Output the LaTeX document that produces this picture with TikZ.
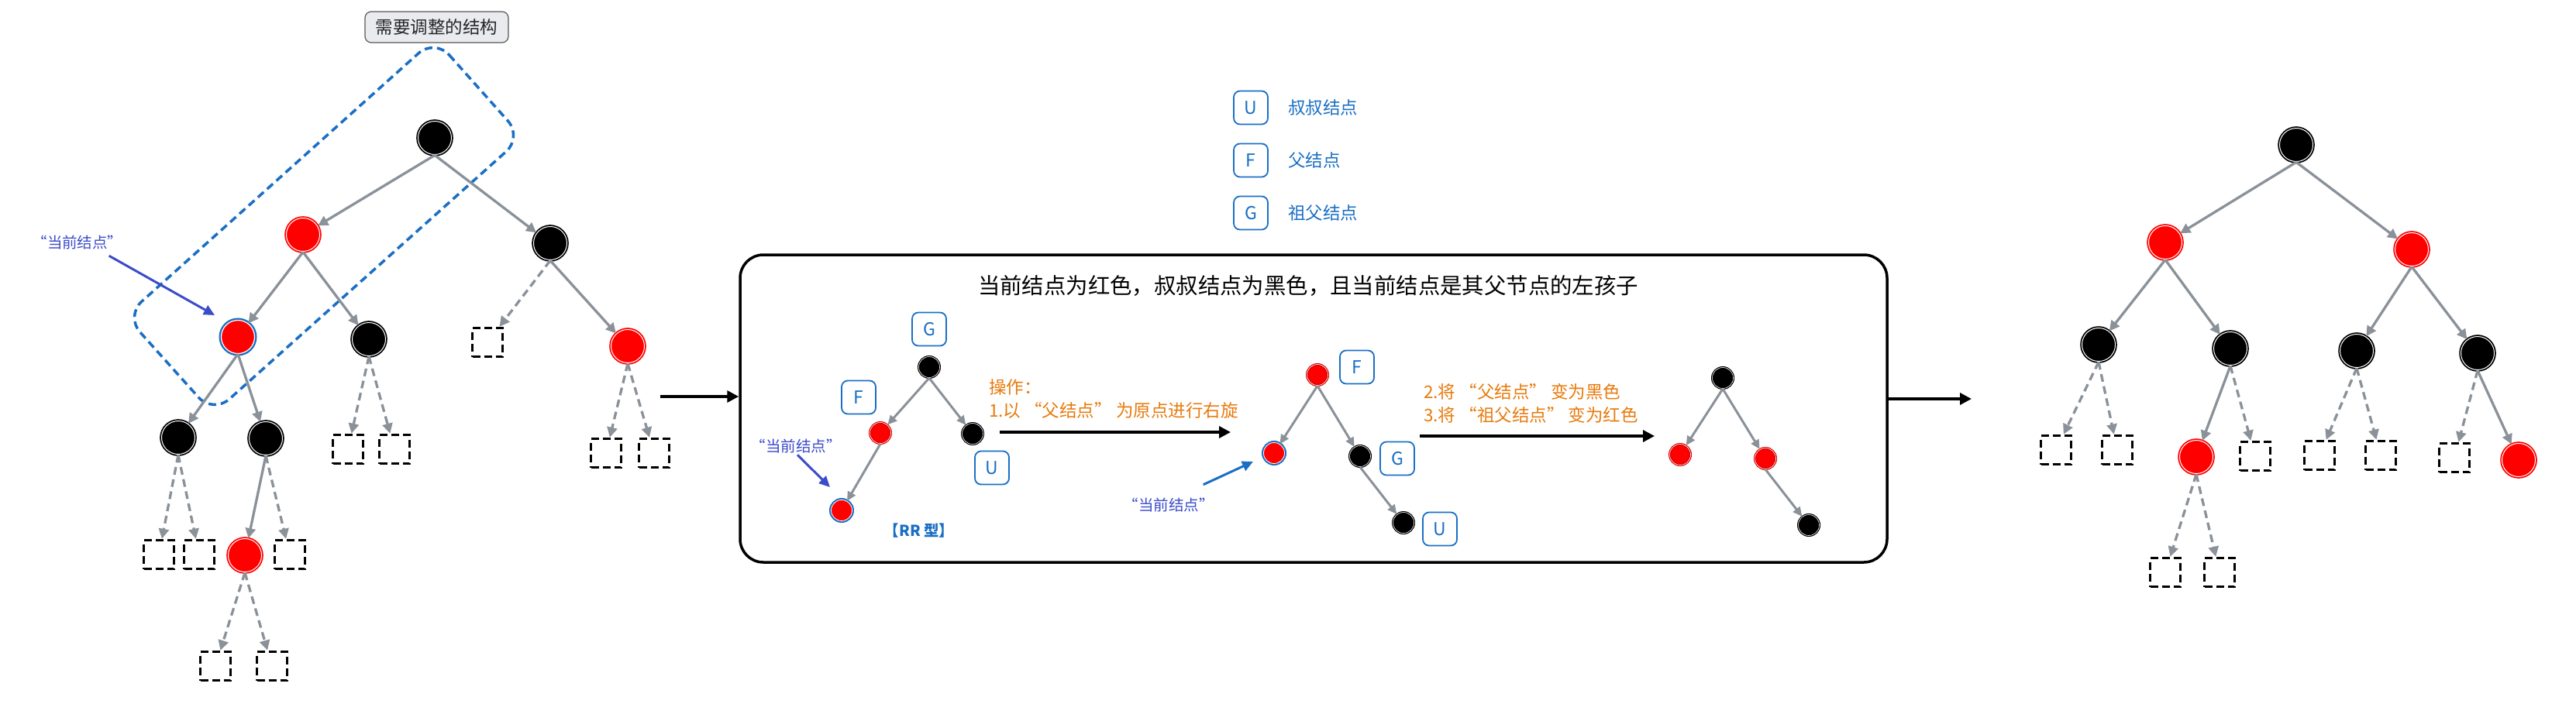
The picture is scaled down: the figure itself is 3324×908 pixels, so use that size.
\documentclass[tikz,border=0pt]{standalone}
\usepackage{fontspec}
\setmainfont{Noto Sans CJK SC}
\usetikzlibrary{arrows.meta}
\definecolor{cblue}{RGB}{26,111,196}
\definecolor{cpurp}{RGB}{59,76,202}
\definecolor{cgray}{RGB}{138,145,153}
\definecolor{corange}{RGB}{232,122,12}
\definecolor{cred}{RGB}{255,0,0}
\definecolor{clight}{RGB}{233,235,239}
\tikzset{
  bnode/.style={circle, fill=black, draw=black, double=white, double distance=1pt, line width=1.8pt, minimum size=43pt, inner sep=0pt},
  rnode/.style={circle, fill=cred, draw=cred, double=white, double distance=1pt, line width=1.8pt, minimum size=43pt, inner sep=0pt},
  cnode/.style={circle, fill=cred, draw=white, line width=1.2pt, minimum size=43pt, inner sep=0pt, preaction={draw=cblue, line width=6pt}},
  sbn/.style={circle, fill=black, draw=black, double=white, double distance=0.6pt, line width=1.2pt, minimum size=27pt, inner sep=0pt},
  srn/.style={circle, fill=cred, draw=cred!85!black, double=white, double distance=0.6pt, line width=1.2pt, minimum size=27pt, inner sep=0pt},
  scn/.style={circle, fill=cred, draw=white, line width=0.8pt, minimum size=27pt, inner sep=0pt, preaction={draw=cblue, line width=5pt}},
  nilbox/.style={draw=black, fill=white, dash pattern=on 10pt off 5pt, line width=3.5pt, minimum width=39pt, minimum height=37pt, inner sep=0pt},
  tedge/.style={draw=cgray, line width=3.3pt, -{Triangle[length=13pt,width=13pt]}},
  dedge/.style={tedge, dash pattern=on 10pt off 6pt},
  sedge/.style={draw=cgray, line width=3pt, -{Triangle[length=12pt,width=11pt]}},
  barrow/.style={draw=black, line width=3.4pt, -{Triangle[length=15pt,width=15pt]}},
  parrow/.style={draw=cpurp, line width=3pt, -{Triangle[length=14pt,width=13pt]}},
  larrow/.style={draw=cblue, line width=3pt, -{Triangle[length=14pt,width=13pt]}},
  lblbox/.style={draw=cblue, fill=white, rounded corners=8pt, line width=1.8pt, minimum width=44pt, minimum height=43pt, inner sep=0pt, text=cblue, font=\fontsize{23}{27}\selectfont},
  legtext/.style={anchor=west, inner sep=0pt, text=cblue, font=\fontsize{22.5}{27}\selectfont},
  curtext/.style={inner sep=0pt, text=cpurp, font=\fontsize{19.5}{23}\selectfont},
  otext/.style={anchor=west, align=left, inner sep=0pt, text=corange, font=\fontsize{22.5}{30}\selectfont},
}
\begin{document}
\begin{tikzpicture}[x=1pt,y=-1pt]
\useasboundingbox (0,0) rectangle (3324,908);
\fill[white] (0,0) rectangle (3324,908);

% ---------- left tree ----------
\draw[cblue, line width=3.5pt, dash pattern=on 10pt off 6pt, rounded corners=28pt]
  (561,50) -- (674,177) -- (275,534) -- (162,408) -- cycle;
\node[draw=black!65, fill=clight, rounded corners=8pt, line width=1.2pt, minimum width=185pt, minimum height=40pt, inner sep=0pt, font=\fontsize{22.5}{27}\selectfont, text=black!85] (need) at (563.5,35) {需要调整的结构};

\node[bnode] (a0) at (561,178) {};
\node[rnode] (a1) at (391,303) {};
\node[bnode] (a2) at (710,314) {};
\node[cnode] (a3) at (307,435) {};
\node[bnode] (a4) at (476,438) {};
\node[nilbox] (a5) at (629,442) {};
\node[rnode] (a6) at (810,447) {};
\node[bnode] (a7) at (230,565) {};
\node[bnode] (a8) at (343,566) {};
\node[nilbox] (a9) at (449,580) {};
\node[nilbox] (a10) at (509,580) {};
\node[nilbox] (a11) at (782,585) {};
\node[nilbox] (a12) at (844,585) {};
\node[nilbox] (a13) at (205,716) {};
\node[nilbox] (a14) at (257,716) {};
\node[rnode] (a15) at (316,717) {};
\node[nilbox] (a16) at (374,716) {};
\node[nilbox] (a17) at (278,860) {};
\node[nilbox] (a18) at (351,860) {};

\draw[tedge] (a0.south) -- (a1);
\draw[tedge] (a0.south) -- (a2);
\draw[tedge] (a1.south) -- (a3);
\draw[tedge] (a1.south) -- (a4);
\draw[dedge] (a2.south) -- (a5);
\draw[tedge] (a2.south) -- (a6);
\draw[tedge] (a3.south) -- (a7);
\draw[tedge] (a3.south) -- (a8);
\draw[dedge] (a4.south) -- (a9);
\draw[dedge] (a4.south) -- (a10);
\draw[dedge] (a6.south) -- (a11);
\draw[dedge] (a6.south) -- (a12);
\draw[dedge] (a7.south) -- (a13);
\draw[dedge] (a7.south) -- (a14);
\draw[tedge] (a8.south) -- (a15);
\draw[dedge] (a8.south) -- (a16);
\draw[dedge] (a15.south) -- (a17);
\draw[dedge] (a15.south) -- (a18);

\node[curtext] (lab0) at (100,313) {“当前结点”};
\coordinate (t0) at (277,407);
\draw[parrow] ([xshift=-18pt,yshift=-8pt]lab0.south east) -- (t0);

% ---------- legend ----------
\node[lblbox] (legU) at (1614,139) {U};
\node[legtext] (legUt) at (1662,139) {叔叔结点};
\node[lblbox] (legF) at (1614,207) {F};
\node[legtext] (legFt) at (1662,207) {父结点};
\node[lblbox] (legG) at (1614,275) {G};
\node[legtext] (legGt) at (1662,275) {祖父结点};

% ---------- middle box ----------
\node[draw=black, line width=3.5pt, rounded corners=30pt, minimum width=1480pt, minimum height=397pt] (box) at (1695,527.5) {};
\node[inner sep=0pt, font=\fontsize{28.4}{34}\selectfont] (title) at (1688,369) {当前结点为红色，叔叔结点为黑色，且当前结点是其父节点的左孩子};

\coordinate (l0) at (852,512);
\draw[barrow] (l0) -- (l0 -| box.west);
\coordinate (r0) at (2544,515);
\draw[barrow] (box.east |- r0) -- (r0);

% part 1
\node[sbn] (p1g) at (1199,474) {};
\node[srn] (p1f) at (1136,559) {};
\node[sbn] (p1u) at (1255,560) {};
\node[scn] (p1c) at (1086,659) {};
\draw[sedge] (p1g.south) -- (p1f);
\draw[sedge] (p1g.south) -- (p1u);
\draw[sedge] (p1f.south) -- (p1c);
\node[lblbox] (p1G) at (1199,425) {G};
\node[lblbox] (p1F) at (1108,513) {F};
\node[lblbox] (p1U) at (1280,604) {U};
\node[curtext] (lab1) at (1027,576) {“当前结点”};
\coordinate (t1) at (1071,629);
\draw[parrow] ([xshift=2pt,yshift=-2pt]lab1.south) -- (t1);
\node[inner sep=0pt, text=cblue, font=\bfseries\fontsize{19.5}{23}\selectfont] (rr) at (1186,685) {【RR 型】};

\node[otext] (op1) at (1276,515) {操作：\\1.以 “父结点” 为原点进行右旋};
\coordinate (s1) at (1290,558);
\coordinate (e1) at (1588,558);
\draw[barrow] (s1) -- (e1);

% part 2
\node[srn] (p2f) at (1700,484) {};
\node[scn] (p2c) at (1644,585) {};
\node[sbn] (p2g) at (1755,589) {};
\node[sbn] (p2u) at (1811,675) {};
\draw[sedge] (p2f.south) -- (p2c);
\draw[sedge] (p2f.south) -- (p2g);
\draw[sedge] (p2g.south) -- (p2u);
\node[lblbox] (p2F) at (1751,474) {F};
\node[lblbox] (p2G) at (1803,592) {G};
\node[lblbox] (p2U) at (1858,683) {U};
\node[curtext] (lab2) at (1508,652) {“当前结点”};
\coordinate (t2) at (1617,596);
\draw[larrow] ([xshift=-14pt,yshift=17pt]lab2.north east) -- (t2);

\node[otext] (op2) at (1837,521) {2.将 “父结点” 变为黑色\\3.将 “祖父结点” 变为红色};
\coordinate (s2) at (1832,563);
\coordinate (e2) at (2135,563);
\draw[barrow] (s2) -- (e2);

% part 3
\node[sbn] (p3a) at (2223,488) {};
\node[srn] (p3b) at (2168,587) {};
\node[srn] (p3c) at (2278,592) {};
\node[sbn] (p3d) at (2334,678) {};
\draw[sedge] (p3a.south) -- (p3b);
\draw[sedge] (p3a.south) -- (p3c);
\draw[sedge] (p3c.south) -- (p3d);

% ---------- right tree ----------
\node[bnode] (b0) at (2963,187) {};
\node[rnode] (b1) at (2794,313) {};
\node[rnode] (b2) at (3112,322) {};
\node[bnode] (b3) at (2708,445) {};
\node[bnode] (b4) at (2878,450) {};
\node[bnode] (b5) at (3041,453) {};
\node[bnode] (b6) at (3197,456) {};
\node[nilbox] (b7) at (2653,581) {};
\node[nilbox] (b8) at (2732,581) {};
\node[rnode] (b9) at (2834,590) {};
\node[nilbox] (b10) at (2910,589) {};
\node[nilbox] (b11) at (2993,588) {};
\node[nilbox] (b12) at (3072,588) {};
\node[nilbox] (b13) at (3167,591) {};
\node[rnode] (b14) at (3250,594) {};
\node[nilbox] (b15) at (2794,739) {};
\node[nilbox] (b16) at (2864,739) {};

\draw[tedge] (b0.south) -- (b1);
\draw[tedge] (b0.south) -- (b2);
\draw[tedge] (b1.south) -- (b3);
\draw[tedge] (b1.south) -- (b4);
\draw[tedge] (b2.south) -- (b5);
\draw[tedge] (b2.south) -- (b6);
\draw[dedge] (b3.south) -- (b7);
\draw[dedge] (b3.south) -- (b8);
\draw[tedge] (b4.south) -- (b9);
\draw[dedge] (b4.south) -- (b10);
\draw[dedge] (b5.south) -- (b11);
\draw[dedge] (b5.south) -- (b12);
\draw[dedge] (b6.south) -- (b13);
\draw[tedge] (b6.south) -- (b14);
\draw[dedge] (b9.south) -- (b15);
\draw[dedge] (b9.south) -- (b16);
\end{tikzpicture}
\end{document}
